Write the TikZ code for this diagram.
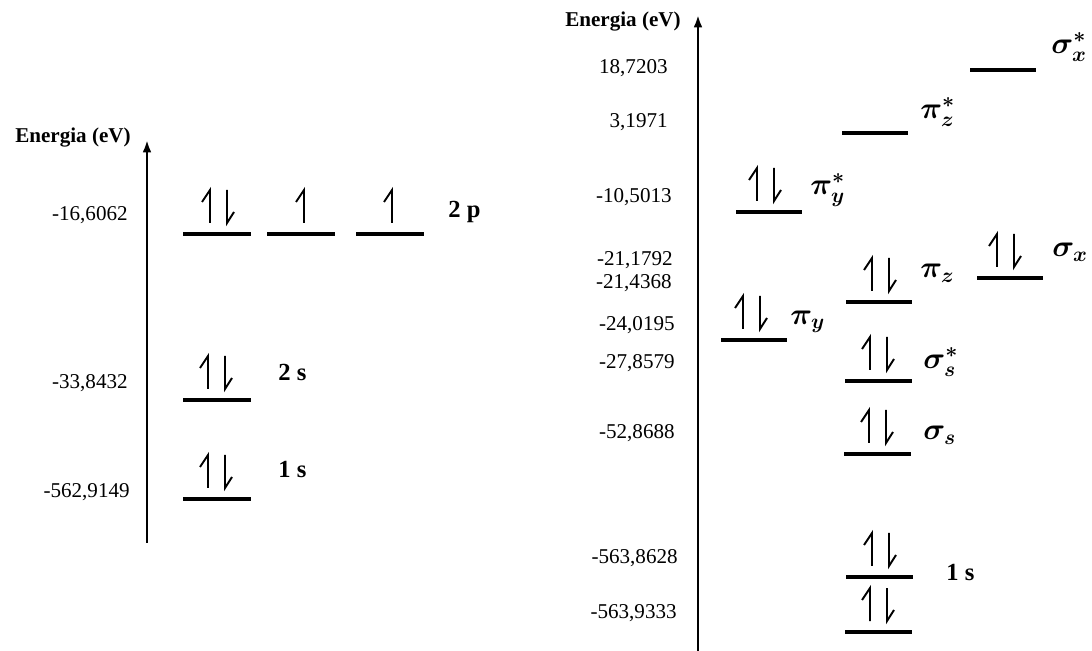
\documentclass[tikz,border=0pt]{standalone}
\usepackage{fontspec}
\setmainfont{Liberation Serif}
\usepackage{bm}
\usetikzlibrary{arrows.meta,positioning}

\tikzset{
  linea nivel/.style={line width=1.8pt},
  eje/.style={line width=1.5pt,-{Latex[length=7pt,width=5pt]}},
  espin/.style={line width=1.1pt},
  valor/.style={anchor=east,inner sep=0pt,font=\fontsize{12}{14}\selectfont},
  titulo/.style={anchor=east,inner sep=0pt,font=\fontsize{12}{14}\selectfont\bfseries},
  orbital/.style={anchor=west,inner sep=0pt,font=\fontsize{14}{16}\selectfont\bfseries},
  griego/.style={anchor=west,inner sep=0pt,font=\fontsize{17}{19}\selectfont},
}

% nivel: nombre, x inicial, x final, y
\newcommand{\nivel}[4]{\draw[linea nivel] (#2,#4) coordinate (#1-i) -- (#3,#4) coordinate (#1-d);}
% electrones sobre un nivel
\newcommand{\espinarriba}[2]{\draw[espin] (#1,#2-11) -- (#1,#2-44) -- ++(-8,12);}
\newcommand{\espinabajo}[2]{\draw[espin] (#1,#2-44) -- (#1,#2-11) -- ++(7,-11);}
\newcommand{\parelec}[2]{\espinarriba{#1}{#2}\espinabajo{#1+17}{#2}}

\begin{document}
\begin{tikzpicture}[x=0.02cm,y=-0.02cm]
  \useasboundingbox (0,0) rectangle (1092,651);

  % ---------- Atomo ----------
  \coordinate (ejeA0) at (147,543);
  \coordinate (ejeA1) at (147,140);
  \draw[eje] (ejeA0) -- (ejeA1);
  \node[titulo] (tA) at (131,138) {Energia (eV)};

  \node[valor] (vA1) at (128,215) {-16,6062};
  \node[valor] (vA2) at (128,383) {-33,8432};
  \node[valor] (vA3) at (130,492) {-562,9149};

  % 2p
  \nivel{p1}{183}{251}{234}
  \nivel{p2}{267}{335}{234}
  \nivel{p3}{356}{424}{234}
  \parelec{210}{234}
  \espinarriba{304}{234}
  \espinarriba{392}{234}
  \node[orbital] (l2p) at (448,212) {2 p};

  % 2s
  \nivel{s2}{183}{251}{400}
  \parelec{208}{400}
  \node[orbital] (l2s) at (278,372) {2 s};

  % 1s
  \nivel{s1}{183}{251}{499}
  \parelec{208}{499}
  \node[orbital] (l1s) at (278,470) {1 s};

  % ---------- Molecula ----------
  \coordinate (ejeB0) at (698,655);
  \coordinate (ejeB1) at (698,15);
  \draw[eje] (ejeB0) -- (ejeB1);
  \node[titulo] (tB) at (681,22) {Energia (eV)};

  \node[valor] (vB1)  at (668,68)  {18,7203};
  \node[valor] (vB2)  at (668,122) {3,1971};
  \node[valor] (vB3)  at (672,197) {-10,5013};
  \node[valor] (vB4)  at (673,260) {-21,1792};
  \node[valor] (vB5)  at (672,283) {-21,4368};
  \node[valor] (vB6)  at (675,325) {-24,0195};
  \node[valor] (vB7)  at (675,363) {-27,8579};
  \node[valor] (vB8)  at (675,433) {-52,8688};
  \node[valor] (vB9)  at (678,558) {-563,8628};
  \node[valor] (vB10) at (677,613) {-563,9333};

  % antienlazantes vacios
  \nivel{sxa}{970}{1036}{70}
  \node[griego] (lsxa) at (1051,47) {$\bm{\sigma^{*}_{x}}$};
  \nivel{pza}{842}{908}{133}
  \node[griego] (lpza) at (920,112) {$\bm{\pi^{*}_{z}}$};

  % orbitales ocupados
  \nivel{pya}{736}{802}{212}
  \parelec{757}{212}
  \node[griego] (lpya) at (810,190) {$\bm{\pi^{*}_{y}}$};

  \nivel{sx}{977}{1043}{278}
  \parelec{997}{278}
  \node[griego] (lsx) at (1052,252) {$\bm{\sigma_{x}}$};

  \nivel{pz}{846}{912}{302}
  \parelec{872}{302}
  \node[griego] (lpz) at (920,273) {$\bm{\pi_{z}}$};

  \nivel{py}{721}{787}{340}
  \parelec{743}{340}
  \node[griego] (lpy) at (790,322) {$\bm{\pi_{y}}$};

  \nivel{ssa}{845}{912}{381}
  \parelec{870}{381}
  \node[griego] (lssa) at (923,362) {$\bm{\sigma^{*}_{s}}$};

  \nivel{ss}{844}{911}{454}
  \parelec{869}{454}
  \node[griego] (lss) at (923,435) {$\bm{\sigma_{s}}$};

  % 1s
  \nivel{ua}{846}{913}{577}
  \parelec{872}{577}
  \nivel{ub}{845}{912}{632}
  \parelec{870}{632}
  \node[orbital] (l1sB) at (946,573) {1 s};
\end{tikzpicture}
\end{document}
